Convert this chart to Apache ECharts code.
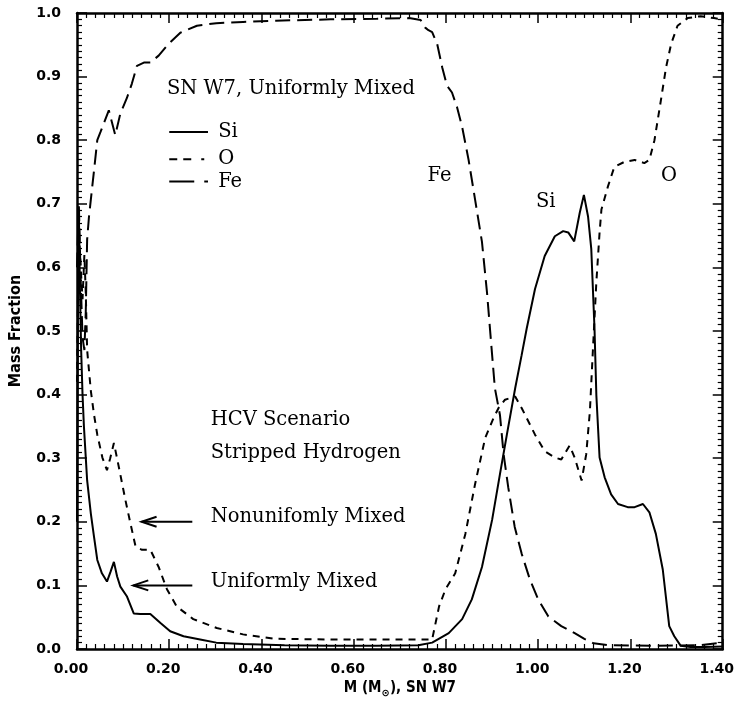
<!DOCTYPE html>
<html>
<head>
<meta charset="utf-8">
<script src="https://cdn.jsdelivr.net/npm/echarts@6/dist/echarts.min.js"></script>
<style>
  html, body { margin: 0; padding: 0; background: #fff; }
  #chart { width: 737px; height: 703px; }
</style>
</head>
<body>
<div id="chart"></div>
<script>
// Element mass fractions versus enclosed mass M (solar masses), SN W7, uniformly mixed
const siMass = [0, 0.002, 0.004, 0.006, 0.009, 0.012, 0.015, 0.022, 0.030, 0.037, 0.044, 0.054, 0.065, 0.073, 0.080, 0.087, 0.094, 0.108, 0.123, 0.137, 0.159, 0.181, 0.202, 0.231, 0.267, 0.302, 0.36, 0.45, 0.55, 0.65, 0.74, 0.77, 0.806, 0.835, 0.856, 0.878, 0.900, 0.917, 0.932, 0.950, 0.964, 0.975, 0.993, 1.014, 1.036, 1.054, 1.065, 1.078, 1.090, 1.099, 1.108, 1.115, 1.122, 1.126, 1.133, 1.144, 1.158, 1.173, 1.194, 1.209, 1.227, 1.241, 1.255, 1.270, 1.284, 1.295, 1.309, 1.33, 1.36, 1.40];
const siFrac = [0.20, 0.55, 0.69, 0.58, 0.47, 0.40, 0.35, 0.265, 0.213, 0.176, 0.14, 0.119, 0.106, 0.122, 0.137, 0.114, 0.098, 0.083, 0.056, 0.055, 0.055, 0.041, 0.028, 0.020, 0.015, 0.010, 0.008, 0.006, 0.005, 0.005, 0.006, 0.010, 0.025, 0.047, 0.078, 0.129, 0.203, 0.275, 0.337, 0.410, 0.462, 0.504, 0.566, 0.618, 0.649, 0.657, 0.655, 0.641, 0.686, 0.714, 0.680, 0.629, 0.504, 0.399, 0.301, 0.270, 0.243, 0.228, 0.223, 0.223, 0.228, 0.215, 0.181, 0.125, 0.036, 0.020, 0.005, 0.003, 0.003, 0.004];

const oMass = [0, 0.004, 0.008, 0.012, 0.016, 0.019, 0.022, 0.030, 0.037, 0.044, 0.055, 0.065, 0.072, 0.080, 0.091, 0.105, 0.116, 0.127, 0.141, 0.159, 0.177, 0.195, 0.216, 0.252, 0.303, 0.36, 0.43, 0.55, 0.65, 0.74, 0.770, 0.785, 0.799, 0.820, 0.842, 0.863, 0.885, 0.903, 0.914, 0.928, 0.950, 0.964, 0.993, 1.014, 1.036, 1.050, 1.068, 1.079, 1.094, 1.104, 1.112, 1.119, 1.126, 1.133, 1.137, 1.151, 1.165, 1.187, 1.209, 1.230, 1.241, 1.252, 1.266, 1.277, 1.288, 1.302, 1.324, 1.352, 1.381, 1.40];
const oFrac = [0.42, 0.66, 0.60, 0.55, 0.62, 0.56, 0.47, 0.406, 0.368, 0.337, 0.301, 0.281, 0.30, 0.324, 0.285, 0.234, 0.197, 0.161, 0.156, 0.156, 0.129, 0.094, 0.067, 0.047, 0.033, 0.023, 0.016, 0.015, 0.015, 0.015, 0.015, 0.067, 0.094, 0.119, 0.181, 0.259, 0.332, 0.363, 0.379, 0.392, 0.397, 0.379, 0.337, 0.311, 0.301, 0.298, 0.320, 0.301, 0.265, 0.306, 0.374, 0.477, 0.577, 0.655, 0.691, 0.727, 0.758, 0.766, 0.769, 0.764, 0.769, 0.800, 0.863, 0.914, 0.951, 0.980, 0.992, 0.995, 0.992, 0.99];

const feMass = [0, 0.004, 0.008, 0.012, 0.016, 0.019, 0.022, 0.026, 0.037, 0.044, 0.051, 0.060, 0.069, 0.073, 0.083, 0.094, 0.108, 0.119, 0.130, 0.145, 0.159, 0.177, 0.198, 0.224, 0.260, 0.302, 0.36, 0.431, 0.55, 0.65, 0.72, 0.745, 0.755, 0.762, 0.770, 0.781, 0.792, 0.802, 0.813, 0.824, 0.835, 0.849, 0.863, 0.878, 0.889, 0.898, 0.906, 0.917, 0.925, 0.935, 0.949, 0.964, 0.982, 1.000, 1.022, 1.050, 1.079, 1.100, 1.120, 1.15, 1.25, 1.35, 1.40];
const feFrac = [0.60, 0.70, 0.58, 0.49, 0.47, 0.53, 0.644, 0.68, 0.753, 0.800, 0.813, 0.830, 0.847, 0.850, 0.808, 0.842, 0.866, 0.889, 0.917, 0.922, 0.922, 0.933, 0.951, 0.969, 0.980, 0.984, 0.986, 0.988, 0.990, 0.991, 0.992, 0.989, 0.977, 0.973, 0.970, 0.951, 0.914, 0.886, 0.875, 0.852, 0.821, 0.769, 0.707, 0.640, 0.56, 0.48, 0.41, 0.368, 0.306, 0.254, 0.192, 0.150, 0.109, 0.078, 0.051, 0.036, 0.025, 0.016, 0.009, 0.006, 0.005, 0.006, 0.010];

// Axis ranges and tick steps
const massRange = [0, 1.4];
const massStep = 0.2;
const fracRange = [0, 1.0];
const fracStep = 0.1;

const zip = (xs, ys) => xs.map((x, i) => [x, ys[i]]);

const INK = '#000';
const tickFont = { color: INK, fontFamily: '"DejaVu Sans", sans-serif', fontWeight: 'bold', fontSize: 14 };
const titleFamily = '"DejaVu Sans Condensed", "DejaVu Sans", sans-serif';
const noteFont = '"DejaVu Serif", serif';
const NOTE_SIZE = 19.5;

function valueAxis(range, step, position, showLabels, digits, margin, padding) {
  return {
    type: 'value',
    position: position,
    min: range[0],
    max: range[1],
    interval: step,
    axisLine: { show: true, onZero: false, lineStyle: { color: INK, width: 2.5 } },
    axisTick: { show: true, inside: true, length: 10, lineStyle: { color: INK, width: 1.5 } },
    minorTick: { show: true, splitNumber: 10, length: 5, lineStyle: { color: INK, width: 1.2 } },
    splitLine: { show: false },
    axisLabel: Object.assign({ show: showLabels, margin: margin, padding: padding, formatter: v => v.toFixed(digits) }, tickFont)
  };
}

const xBottom = valueAxis(massRange, massStep, 'bottom', true, 2, 13, [0, 12, 0, 0]);
xBottom.name = 'M (M{sub|\u2299}), SN W7';
xBottom.nameLocation = 'middle';
xBottom.nameGap = 30;
xBottom.nameTextStyle = {
  color: INK, fontFamily: titleFamily, fontWeight: 'bold', fontSize: 15,
  rich: { sub: { fontSize: 10, fontWeight: 'bold', padding: [9, 0, 0, 0], fontFamily: '"DejaVu Sans", sans-serif' } }
};
const xTop = valueAxis(massRange, massStep, 'top', false, 2, 10, 0);

const yLeft = valueAxis(fracRange, fracStep, 'left', true, 1, 16, [8, 0, 0, 0]);
yLeft.name = 'Mass Fraction';
yLeft.nameLocation = 'middle';
yLeft.nameGap = 53;
yLeft.nameRotate = 90;
yLeft.nameTextStyle = { color: INK, fontFamily: titleFamily, fontWeight: 'bold', fontSize: 16 };
const yRight = valueAxis(fracRange, fracStep, 'right', false, 1, 10, 0);

const DASH_O = [7, 6];
const DASH_FE = [15, 7];

function profile(name, xs, ys, dash) {
  return {
    name: name,
    type: 'line',
    xAxisIndex: 0,
    yAxisIndex: 0,
    showSymbol: false,
    symbol: 'none',
    data: zip(xs, ys),
    lineStyle: { color: INK, width: 2, type: dash },
    z: 3
  };
}

const chart = echarts.init(document.getElementById('chart'), null, { renderer: 'canvas' });
chart.setOption({
  animation: false,
  backgroundColor: '#fff',
  grid: { left: 73, right: 14, top: 13, bottom: 49, containLabel: false },
  xAxis: [xBottom, xTop],
  yAxis: [yLeft, yRight],
  series: [
    profile('Si', siMass, siFrac, 'solid'),
    profile('O', oMass, oFrac, DASH_O),
    profile('Fe', feMass, feFrac, DASH_FE)
  ]
});

// Annotations and key, placed in data coordinates
const px = (x, y) => chart.convertToPixel({ gridIndex: 0 }, [x, y]);

function note(text, x, y, size) {
  const p = px(x, y);
  return {
    type: 'text', x: p[0], y: p[1], z: 10,
    style: { text: text, fill: INK, font: (size || NOTE_SIZE) + 'px ' + noteFont, textVerticalAlign: 'middle', textAlign: 'left' }
  };
}

// key samples: solid, dash-dash-dot, long dash-dot
function keyLine(x0, x1, y, dash) {
  const a = px(x0, y), b = px(x1, y);
  return {
    type: 'line', z: 10,
    shape: { x1: a[0], y1: a[1], x2: b[0], y2: b[1] },
    style: { stroke: INK, lineWidth: 2, lineDash: dash }
  };
}

function arrow(xTail, xTip, y) {
  const t = px(xTail, y), h = px(xTip, y);
  return [
    { type: 'line', z: 10, shape: { x1: t[0], y1: t[1], x2: h[0], y2: h[1] }, style: { stroke: INK, lineWidth: 2 } },
    { type: 'polyline', z: 10, shape: { points: [[h[0] + 15, h[1] - 5], [h[0], h[1]], [h[0] + 15, h[1] + 5]] }, style: { stroke: INK, lineWidth: 2, fill: null } }
  ];
}

const graphics = [
  note('SN W7, Uniformly Mixed', 0.195, 0.88),
  keyLine(0.200, 0.284, 0.813, null),
  keyLine(0.200, 0.284, 0.770, [8, 6, 8, 10, 3, 40]),
  keyLine(0.200, 0.284, 0.735, [25, 10, 4, 40]),
  note('Si', 0.306, 0.813),
  note('O', 0.306, 0.770),
  note('Fe', 0.306, 0.735),
  note('Fe', 0.760, 0.744),
  note('Si', 0.995, 0.703),
  note('O', 1.266, 0.744),
  note('HCV Scenario', 0.290, 0.360),
  note('Stripped Hydrogen', 0.290, 0.308),
  note('Nonunifomly Mixed', 0.290, 0.207),
  note('Uniformly Mixed', 0.290, 0.106)
].concat(arrow(0.250, 0.140, 0.200), arrow(0.250, 0.122, 0.100));

chart.setOption({ graphic: graphics });
</script>
</body>
</html>
